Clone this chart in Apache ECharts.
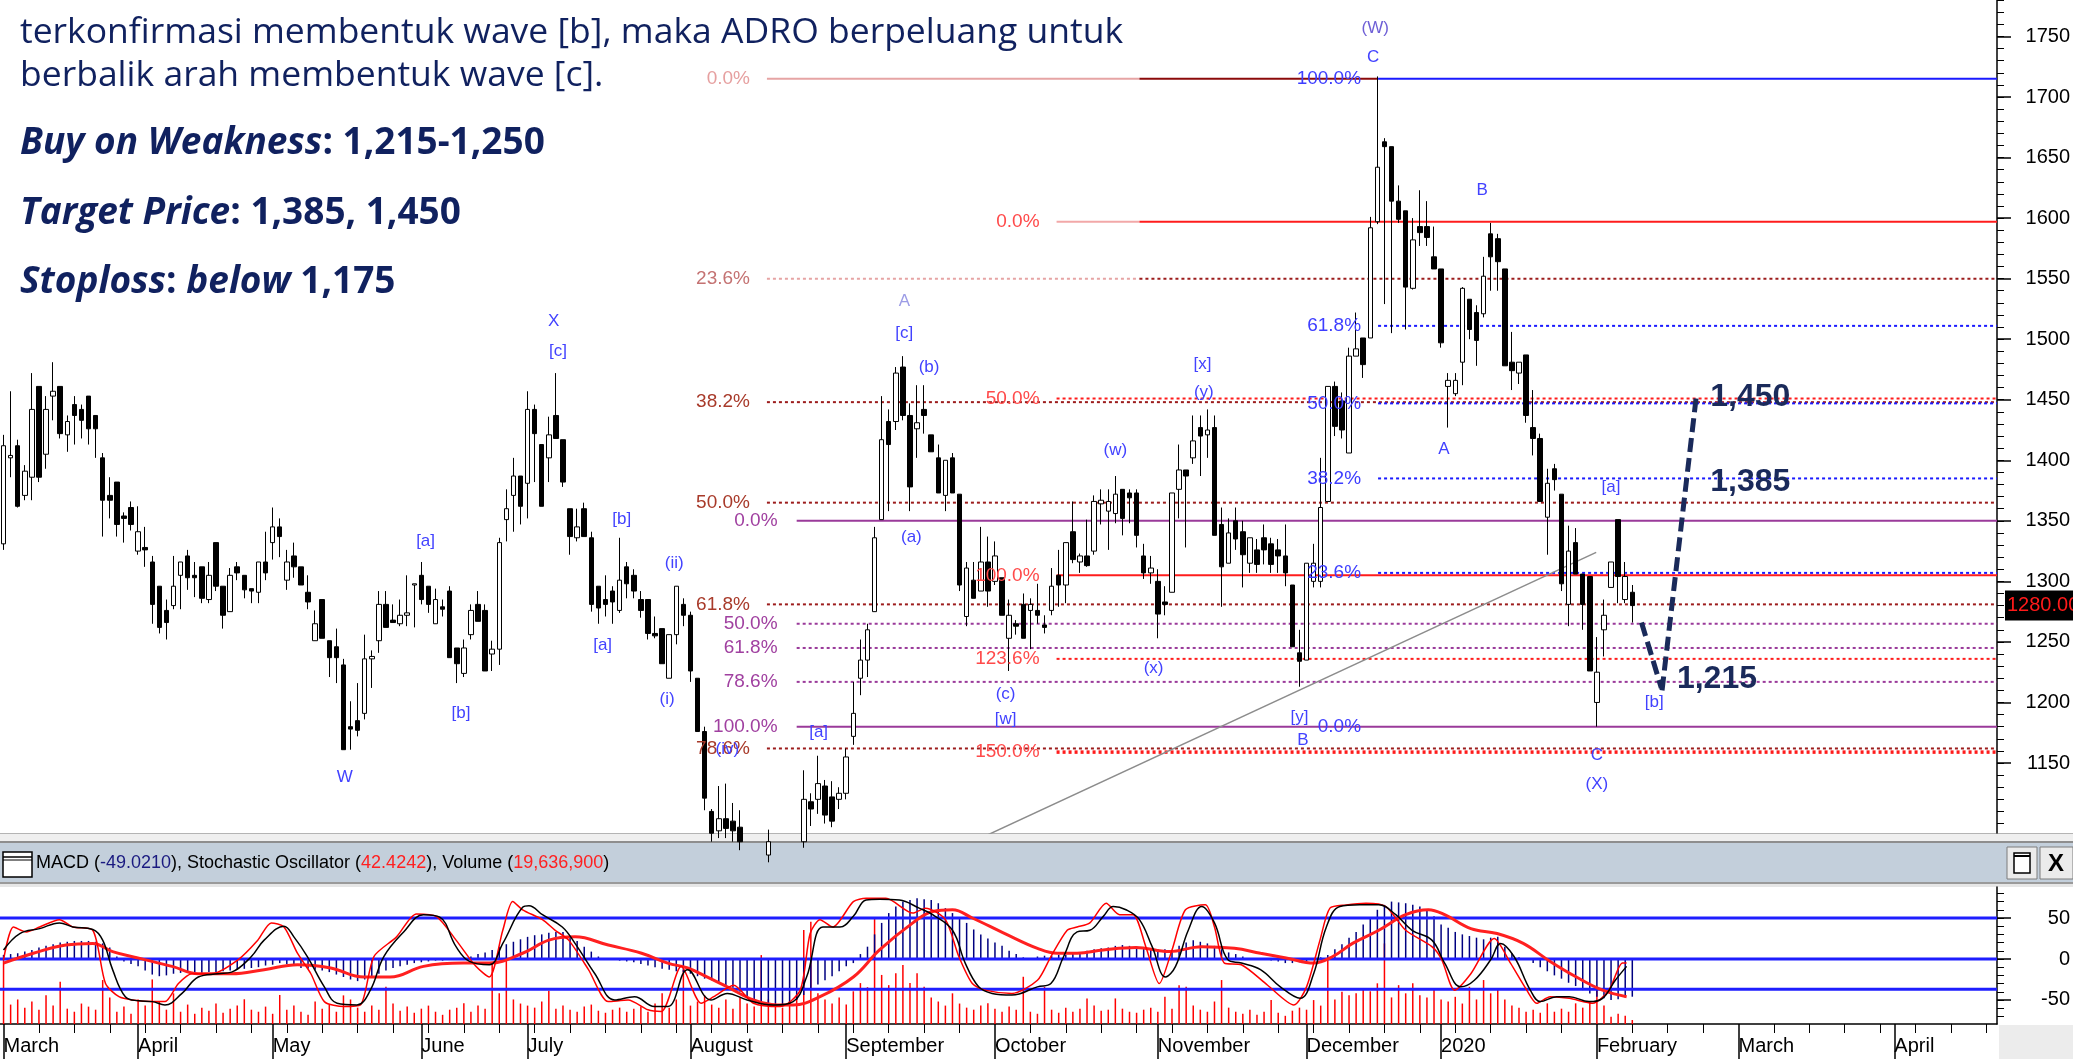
<!DOCTYPE html>
<html>
<head>
<meta charset="utf-8">
<script src="https://cdn.jsdelivr.net/npm/echarts@6/dist/echarts.min.js"></script>
<style>
  html, body { margin: 0; padding: 0; background: #fff; }
  #chart { width: 2073px; height: 1059px; }
</style>
</head>
<body>
<div id="chart"></div>
<script>
// ADRO daily candles [open, close, low, high], March 2019 - early February 2020
const candles = [
  [1331,1412,1326,1421],[1402,1404,1386,1457],[1412,1362,1361,1417],[1371,1391,1367,1396],[1386,1442,1367,1472],
  [1461,1386,1382,1461],[1405,1442,1393,1453],[1453,1457,1433,1481],[1461,1422,1418,1461],[1421,1432,1407,1437],
  [1446,1437,1413,1453],[1442,1433,1418,1446],[1453,1426,1413,1453],[1437,1426,1402,1437],[1402,1367,1337,1406],
  [1371,1367,1352,1386],[1382,1347,1337,1382],[1354,1352,1332,1357],[1361,1347,1342,1366],[1325,1341,1322,1362],
  [1328,1326,1312,1345],[1316,1281,1265,1321],[1296,1262,1257,1296],[1276,1266,1252,1285],[1280,1296,1277,1321],
  [1305,1316,1277,1316],[1321,1303,1293,1326],[1305,1303,1287,1316],[1312,1286,1282,1312],[1285,1305,1282,1316],
  [1332,1296,1292,1332],[1296,1272,1261,1296],[1275,1305,1275,1311],[1312,1307,1301,1316],[1305,1293,1286,1305],
  [1294,1292,1282,1294],[1291,1316,1282,1316],[1316,1307,1301,1341],[1332,1345,1318,1361],[1345,1337,1320,1352],
  [1301,1316,1293,1326],[1321,1312,1303,1332],[1312,1297,1297,1312],[1291,1283,1277,1305],[1251,1265,1251,1276],
  [1285,1253,1253,1285],[1251,1237,1221,1251],[1246,1237,1216,1261],[1231,1161,1161,1236],[1180,1178,1161,1201],
  [1185,1177,1172,1216],[1191,1236,1186,1256],[1236,1238,1212,1243],[1251,1281,1241,1292],[1281,1262,1262,1292],
  [1268,1266,1266,1281],[1265,1272,1263,1285],[1272,1274,1263,1305],[1297,1298,1262,1298],[1305,1285,1281,1316],
  [1296,1281,1274,1296],[1265,1285,1265,1294],[1279,1277,1271,1285],[1292,1237,1237,1296],[1245,1232,1216,1245],
  [1224,1245,1221,1252],[1256,1276,1252,1281],[1281,1267,1267,1292],[1276,1226,1226,1281],[1240,1244,1226,1251],
  [1244,1332,1231,1336],[1351,1360,1333,1376],[1371,1387,1341,1402],[1387,1362,1347,1387],[1381,1442,1352,1457],
  [1442,1422,1382,1446],[1413,1362,1362,1413],[1402,1421,1382,1436],[1437,1418,1418,1472],[1417,1382,1378,1417],
  [1360,1337,1322,1360],[1336,1345,1333,1360],[1360,1337,1337,1365],[1336,1281,1275,1341],[1296,1278,1265,1296],
  [1285,1281,1271,1305],[1292,1283,1265,1296],[1276,1301,1274,1336],[1312,1298,1286,1316],[1305,1292,1286,1310],
  [1285,1276,1270,1292],[1285,1257,1252,1285],[1257,1255,1253,1271],[1261,1232,1232,1261],[1220,1256,1220,1256],
  [1256,1296,1248,1296],[1281,1272,1263,1286],[1272,1226,1217,1275],[1220,1176,1176,1220],[1176,1121,1111,1180],
  [1110,1092,1085,1112],[1094,1104,1088,1131],[1104,1096,1088,1133],[1102,1094,1085,1117],[1097,1085,1078,1111],
  [1085,1072,1062,1090],[1074,1066,1058,1082],[1066,1072,1055,1078],[1074,1085,1068,1095],[1085,1078,1068,1090],
  [1078,1070,1060,1084],[1068,1075,1060,1082],[1075,1085,1068,1092],[1085,1120,1080,1144],[1118,1112,1098,1125],
  [1120,1133,1108,1156],[1131,1107,1100,1136],[1122,1102,1097,1135],[1120,1125,1112,1130],[1125,1155,1120,1162],
  [1172,1191,1165,1217],[1220,1235,1206,1252],[1235,1260,1221,1265],[1275,1336,1275,1345],[1351,1417,1351,1453],
  [1432,1413,1358,1442],[1432,1472,1425,1477],[1477,1437,1433,1486],[1437,1378,1358,1447],[1426,1431,1402,1462],
  [1442,1437,1422,1462],[1421,1407,1407,1421],[1402,1373,1373,1413],[1371,1400,1358,1400],[1402,1373,1373,1406],
  [1372,1297,1292,1372],[1271,1311,1263,1316],[1301,1286,1286,1316],[1292,1316,1292,1345],[1316,1292,1279,1337],
  [1300,1321,1297,1333],[1303,1272,1272,1303],[1253,1272,1226,1285],[1265,1263,1256,1268],[1281,1253,1253,1290],
  [1276,1281,1244,1286],[1276,1272,1265,1298],[1264,1262,1257,1272],[1276,1296,1272,1311],[1305,1297,1279,1326],
  [1297,1332,1282,1332],[1341,1318,1315,1366],[1316,1321,1307,1323],[1321,1313,1312,1351],[1325,1366,1322,1371],
  [1364,1367,1347,1376],[1358,1366,1326,1376],[1356,1372,1348,1387],[1376,1352,1338,1376],[1373,1369,1348,1376],
  [1373,1338,1328,1376],[1321,1307,1302,1331],[1307,1311,1298,1321],[1300,1273,1253,1310],[1283,1281,1272,1296],
  [1291,1373,1291,1373],[1376,1392,1352,1413],[1392,1387,1328,1392],[1402,1416,1397,1437],[1427,1420,1387,1437],
  [1421,1425,1402,1442],[1427,1338,1338,1437],[1347,1312,1279,1361],[1315,1340,1315,1352],[1350,1335,1326,1361],
  [1341,1322,1295,1350],[1315,1336,1307,1336],[1326,1314,1307,1335],[1336,1326,1314,1347],[1331,1314,1307,1336],
  [1326,1321,1307,1335],[1321,1307,1296,1347],[1297,1246,1246,1297],[1241,1234,1213,1260],[1235,1315,1235,1315],
  [1300,1315,1295,1331],[1300,1361,1295,1402],[1366,1461,1366,1461],[1461,1428,1420,1465],[1449,1425,1418,1456],
  [1406,1486,1406,1493],[1486,1492,1486,1522],[1501,1479,1468,1501],[1501,1592,1501,1601],[1597,1642,1595,1717],
  [1663,1659,1529,1666],[1659,1614,1505,1659],[1614,1599,1596,1627],[1606,1543,1508,1606],[1542,1582,1541,1600],
  [1593,1588,1577,1623],[1593,1584,1577,1614],[1568,1558,1558,1593],[1558,1497,1493,1558],[1461,1466,1427,1472],
  [1455,1466,1453,1472],[1481,1542,1462,1543],[1533,1508,1500,1533],[1522,1499,1478,1528],[1521,1552,1518,1568],
  [1587,1568,1540,1596],[1583,1564,1540,1587],[1558,1478,1478,1558],[1481,1474,1458,1506],[1472,1481,1463,1481],
  [1487,1437,1431,1487],[1427,1418,1404,1458],[1418,1366,1366,1422],[1353,1381,1322,1393],[1393,1384,1375,1397],
  [1372,1298,1292,1372],[1281,1325,1263,1346],[1332,1306,1306,1344],[1306,1281,1260,1306],[1304,1226,1226,1304],
  [1200,1225,1180,1254],[1260,1272,1238,1285],[1295,1316,1295,1316],[1351,1304,1282,1351],[1285,1304,1282,1316],
  [1291,1280,1266,1297]
];

// MACD histogram, one bar per day
const macdHist = [
  5,6,7,9,11,14,16,18,20,21, 22,22,22,21,19,14,3,-3,-6,-9,
  -14,-19,-21,-20,-18,-17,-17,-18,-17,-16, -16,-15,-14,-13,-12,-11,-10,-8,-7,-5,
  -6,-8,-11,-12,-13,-14,-16,-19,-22,-25, -27,-25,-22,-18,-14,-11,-9,-7,-5,-4,
  -3,-2,-2,-1,-1,0,3,6,8,11, 15,18,21,24,27,29,30,32,33,33,
  28,22,15,9,3,1,-1,-2,-3,-4, -6,-8,-10,-12,-13,-15,-16,-18,-21,-24,
  -26,-29,-32,-35,-40,-46,-51,-55,-58,-58, -58,-56,-50,-44,-38,-31,-26,-21,-15,-9,
  -5,6,15,30,44,56,64,70,72,74, 73,72,68,62,56,50,44,36,30,25,
  20,16,10,6,2,1,3,4,4,5, 5,6,8,10,12,13,14,16,17,16,
  15,14,13,12,12,11,16,20,23,21, 19,16,12,8,6,3,1,-1,-1,-2,
  -3,-5,-5,-4,-3,-1,2,5,12,18, 26,33,42,51,60,66,70,69,68,66,
  64,60,52,42,38,33,30,28,26,24, 26,27,15,7,2,0,-5,-10,-15,-20,
  -24,-29,-33,-38,-42,-46,-48,-50,-49,-47, -46
];

// daily volume, millions of shares
const volume = [
  321,95,120,80,110,70,140,90,207,75, 60,100,85,70,215,130,60,85,50,120,
  90,218,110,70,150,60,95,50,80,65, 100,55,75,90,121,70,60,85,50,142,
  70,90,60,45,110,75,95,60,140,120, 80,60,90,70,182,100,65,85,55,75,
  90,60,45,70,80,101,60,90,75,297, 150,329,120,100,90,80,110,163,75,90,
  70,60,85,95,65,55,70,80,60,75, 85,60,100,150,80,120,264,90,110,140,
  95,80,120,75,130,100,85,337,120,95, 80,110,140,460,500,150,120,100,130,95,
  160,200,180,518,240,190,248,289,200,248, 182,130,110,90,150,100,80,70,90,101,
  75,60,85,70,231,60,50,182,70,55, 80,60,75,125,90,65,70,125,75,60,
  55,70,80,60,133,75,190,182,90,70, 60,110,215,80,60,50,70,45,60,117,
  55,40,65,80,70,117,90,321,120,158, 140,150,170,160,199,394,130,190,150,199,
  140,130,174,120,110,133,100,182,120,215, 150,174,120,90,80,60,70,55,101,60,
  75,60,101,80,110,182,90,36,50,40, 19.6
];

// stochastic %K (black), %D (thin red), MACD line (thick red): [day index, value]
const stochK = [
  [0,11],[2.3,31],[5.1,37],[7.9,44],[9.8,39],[12.6,36],[14,23],[15.4,-13],[17.2,-46],[19.1,-51],[21,-52],[22.8,-56],
  [25.2,-42],[27.5,-22],[30.3,-18],[32.2,-16],[35,3],[36.8,23],[39.6,40],[41,27],[42.9,3],[45.3,-34],[47.1,-54],
  [49.9,-56],[51.8,-38],[53.7,3],[56.5,33],[59.3,54],[61.6,51],[63.9,15],[65.8,-3],[68.6,-7],[70.5,19],[73.3,63],
  [74.2,65],[76.1,54],[78.9,39],[80.7,19],[83.5,-18],[86.3,-50],[89.1,-46],[91.9,-58],[93.8,-58],[96.6,-13],
  [99.9,-50],[102.2,-42],[105,-50],[108.7,-56],[111.5,-52],[113.4,-22],[115.7,39],[118.1,39],[120,52],[121.8,72],
  [123.7,73],[126.5,72],[129.3,62],[131.2,54],[134,35],[135.8,-5],[137.7,-34],[139.6,-42],[142.4,-44],[146,-34],
  [147.9,-30],[149.7,3],[151.6,33],[153.4,35],[155.3,52],[156.7,64],[158.5,60],[160.4,48],[162.2,15],[164.1,-22],
  [165.5,-9],[167.3,35],[169.2,64],[171,44],[172.9,-1],[174.8,-5],[177.5,-13],[180.3,-34],[183.1,-48],[185,-18],
  [186.8,39],[188.7,64],[191.5,66],[194.2,66],[196.6,54],[198.9,35],[201.7,23],[203.5,-5],[205.8,-34],[207.7,-26],
  [210,-1],[211.4,19],[213.3,3],[215.6,-38],[217,-52],[219.3,-46],[221.1,-46],[223.9,-52],[225.8,-48],[227.6,-26],
  [229.2,-9]
];
const stochD = [
  [0,-1],[1.4,39],[3.2,33],[5.1,39],[7.9,48],[9.8,39],[12.6,35],[14.4,-30],[16.3,-46],[18.2,-50],[21,-52],[22.8,-52],
  [24.7,-30],[26.6,-18],[29.4,-18],[33.1,-1],[35.9,23],[37.8,44],[39.6,39],[41.5,7],[43.4,-18],[45.3,-52],[48.1,-58],
  [50.4,-56],[52.3,3],[55.5,27],[58.3,55],[61.1,52],[63.9,23],[66.7,-9],[68.6,-22],[70.5,35],[71.9,70],[73.3,60],
  [76.1,48],[77.9,35],[79.8,23],[82.6,-13],[85.4,-52],[88.2,-50],[91,-62],[92.9,-64],[95.7,-9],[98.5,-54],
  [100.3,-46],[103.1,-32],[105.9,-54],[109.7,-58],[112.5,-38],[113.9,31],[115.3,48],[117.1,39],[120,70],[121.8,74],
  [124.6,74],[128.4,56],[130.2,62],[133,48],[134.9,3],[136.8,-30],[138.6,-38],[142.4,-42],[146,-26],[147.9,3],
  [150.2,35],[151.6,39],[153.4,44],[155.7,68],[157.6,54],[159.5,54],[161.3,15],[163.2,-30],[165,11],[166.9,60],
  [169.7,66],[171,39],[172.4,-5],[174.8,-7],[178.5,-32],[182.2,-56],[184,-34],[185.9,23],[187.3,62],[189.6,66],
  [192.4,68],[195.2,64],[198,35],[201.7,15],[203.1,-1],[204.9,-38],[207.2,-18],[210.5,25],[212.8,-5],[215.1,-38],
  [216.5,-54],[218.4,-46],[221.1,-48],[224.4,-54],[226.7,-38],[228.6,-5],[229.2,-5]
];
const macdLine = [
  [0,-5],[4.2,7],[8.8,17],[12.6,19],[15.4,9],[19.1,1],[23.8,-9],[27.5,-18],[32.2,-18],[36.8,-13],[41.5,-7],[46.2,-11],
  [50.9,-22],[54.6,-22],[59.3,-9],[64.9,-5],[68.6,-5],[73.3,7],[77,23],[80.7,27],[85.4,17],[90.1,7],[93.8,-5],
  [96.6,-11],[99.4,-22],[102.2,-34],[105.9,-50],[109.2,-56],[111.5,-56],[115.3,-46],[120,-22],[123.7,11],[128.4,44],
  [131.2,58],[134,60],[136.8,50],[141.4,31],[146,13],[148.8,7],[151.6,7],[155.3,11],[159.9,14],[164.6,9],[169.2,15],
  [173.8,13],[177.5,7],[181.3,1],[185,-5],[187.7,3],[190.5,19],[194.2,35],[198,54],[201.2,60],[203.5,54],[207.2,37],
  [210.9,31],[214.6,19],[218.4,-3],[222.1,-22],[225.8,-38],[229.2,-46]
];

// axis labels
const months = ['March','April','May','June','July','August','September','October','November','December','2020','February','March','April'];
const monthStart = [0,19,38,59,74,97,119,140,163,184,203,225,245,267];
const priceTicks = [1150,1200,1250,1300,1350,1400,1450,1500,1550,1600,1650,1700,1750];
const indTicks = [-50,0,50];
const indLevels = [50,0,-37];

// fibonacci levels: [label, price]
const fibDarkRed = [['0.0%',1715],['23.6%',1550],['38.2%',1448],['50.0%',1365],['61.8%',1281],['78.6%',1162]];
const fibPurple = [['0.0%',1350],['50.0%',1265],['61.8%',1245],['78.6%',1217],['100.0%',1180]];
const fibRed = [['0.0%',1597],['50.0%',1451],['100.0%',1305],['123.6%',1236],['150.0%',1159]];
const fibBlue = [['100.0%',1715],['61.8%',1511],['50.0%',1447],['38.2%',1385],['23.6%',1307],['0.0%',1180]];

// elliott wave labels: [text, day index, price]
const waveLabels = [
  ['X',77.7,1515],['[c]',78.3,1490],['W',48.2,1138],['[a]',59.6,1333],['[b]',64.6,1191],['[b]',87.3,1351],
  ['[a]',84.6,1247],['(ii)',94.7,1315],['(i)',93.7,1203],['(iv)',102.2,1161],['[a]',115.1,1175],
  ['[c]',127.2,1505],['(b)',130.7,1477],['(a)',128.2,1336],['(c)',141.5,1207],['[w]',141.5,1186],
  ['(w)',157,1408],['(x)',162.4,1228],['[x]',169.3,1479],['(y)',169.5,1456],['[y]',183,1188],['B',183.5,1169],
  ['C',193.4,1733],['B',208.8,1623],['A',203.4,1409],['[a]',227,1378],['[b]',233.1,1200],['C',225,1156],['(X)',225,1132]
];
const waveLabelsLight = [['A',127.2,1531],['(W)',193.7,1757]];
const targets = [['1,450',241,1452],['1,385',241,1382],['1,215',236.3,1219]];
const trendLine = [[131,1069],[224.9,1324]];
const arrowDown = [[231.3,1266],[234.1,1212]];
const arrowUp = [[234.2,1210],[239,1451]];

const N = 282;
const cats = [];
for (let i = 0; i < N; i++) cats.push(String(i));
const monthOf = {};
monthStart.forEach((s, k) => { monthOf[s] = months[k]; });
const priceMinor = [];
for (let v = 1100; v <= 1780; v += 10) priceMinor.push(v);
const indMinor = [];
for (let v = -70; v <= 80; v += 10) indMinor.push(v);

const ARIAL = '"Liberation Sans",Arial,sans-serif';
const XEND = N - 0.5;

const chart = echarts.init(document.getElementById('chart'));

function seg(x1, x2, p, color, type, width, z) {
  return {
    type: 'line', xAxisIndex: 1, yAxisIndex: 0, silent: true, symbol: 'none', z: z || 3,
    data: [[x1, p], [x2, p]],
    lineStyle: { color: color, type: type, width: width }
  };
}

function texts(items, opt) {
  return {
    type: 'scatter', xAxisIndex: 1, yAxisIndex: 0, silent: true, z: opt.z || 10, clip: false,
    symbolSize: 1, itemStyle: { color: 'transparent', opacity: 1 },
    data: items.map(t => ({
      value: [t[1], t[2]],
      label: {
        show: true, position: 'inside', formatter: t[0], opacity: 1,
        color: t[3] || opt.color, fontSize: opt.size, fontFamily: opt.font,
        fontWeight: opt.weight || 'normal', align: opt.align || 'center', verticalAlign: 'middle'
      }
    }))
  };
}

const DOT = [3, 3];
const series = [];

// fibonacci lines
const DR_START = 107.8, PU_START = 112, RE_START = 148.7, FADE_END = 160.4, BL_START = 194.1;
series.push(seg(DR_START, FADE_END, fibDarkRed[0][1], '#e6a4a4', 'solid', 2));
series.push(seg(FADE_END, BL_START, fibDarkRed[0][1], '#8b0a0a', 'solid', 2));
series.push(seg(DR_START, FADE_END, fibDarkRed[1][1], '#e6a4a4', DOT, 2));
series.push(seg(FADE_END, XEND, fibDarkRed[1][1], '#9c1c1c', DOT, 2));
fibDarkRed.slice(2).forEach(f => series.push(seg(DR_START, XEND, f[1], '#9c1c1c', DOT, 2)));
fibPurple.forEach((f, k) => {
  const solid = k === 0 || k === fibPurple.length - 1;
  series.push(seg(PU_START, XEND, f[1], '#9a3a9a', solid ? 'solid' : DOT, 2));
});
series.push(seg(RE_START, FADE_END, fibRed[0][1], '#f2a8a8', 'solid', 2));
series.push(seg(FADE_END, XEND, fibRed[0][1], '#ff1c1c', 'solid', 2));
series.push(seg(RE_START, XEND, fibRed[1][1], '#ff1c1c', DOT, 2));
series.push(seg(RE_START, XEND, fibRed[2][1], '#ff1c1c', 'solid', 2));
series.push(seg(RE_START, XEND, fibRed[3][1], '#ff1c1c', DOT, 2));
series.push(seg(RE_START, XEND, fibRed[4][1], '#ff1c1c', DOT, 3.5));
series.push(seg(BL_START, XEND, fibBlue[0][1], '#1a1aff', 'solid', 2));
fibBlue.slice(1, 5).forEach(f => series.push(seg(BL_START, XEND, f[1], '#1a1aff', DOT, 2)));

// gray trend line
series.push({
  type: 'line', xAxisIndex: 1, yAxisIndex: 0, silent: true, symbol: 'none', z: 3, clip: true,
  data: trendLine, lineStyle: { color: '#8c8c8c', width: 1.5 }
});

// candles
series.push({
  type: 'candlestick', xAxisIndex: 0, yAxisIndex: 0, data: candles, barWidth: 5, clip: true, z: 5,
  itemStyle: { color: '#ffffff', color0: '#000000', borderColor: '#000000', borderColor0: '#000000', borderWidth: 1 }
});

// fib labels
series.push(texts(fibDarkRed.map((f, k) => [f[0], 105.4, f[1], k === 0 ? '#e6a0a0' : (k === 1 ? '#c47272' : '#a83a2a')]), { size: 19, font: ARIAL, align: 'right' }));
series.push(texts(fibPurple.map(f => [f[0], 109.3, f[1]]), { size: 19, font: ARIAL, align: 'right', color: '#a040a0' }));
series.push(texts(fibRed.map(f => [f[0], 146.3, f[1]]), { size: 19, font: ARIAL, align: 'right', color: '#ff4a4a' }));
series.push(texts(fibBlue.map(f => [f[0], 191.7, f[1]]), { size: 19, font: ARIAL, align: 'right', color: '#3d3dff' }));

// wave labels
series.push(texts(waveLabels, { size: 17, font: ARIAL, color: '#4242ff', z: 12 }));
series.push(texts([[waveLabelsLight[0][0], waveLabelsLight[0][1], waveLabelsLight[0][2], '#9c9ce6'], [waveLabelsLight[1][0], waveLabelsLight[1][1], waveLabelsLight[1][2], '#6e5fd6']], { size: 17, font: ARIAL, z: 12 }));

// targets and arrows
series.push(texts(targets, { size: 32, font: ARIAL, weight: 'bold', align: 'left', color: '#1a2a5a', z: 13 }));
series.push({
  type: 'line', xAxisIndex: 1, yAxisIndex: 0, silent: true, symbol: 'none', data: [], z: 14,
  markLine: {
    silent: true, symbol: ['none', 'arrow'], symbolSize: [0, 18], animation: false,
    label: { show: false },
    emphasis: { disabled: true },
    lineStyle: { color: '#1a2a5a', width: 5, type: [14, 6], opacity: 1 },
    data: [
      [{ coord: arrowDown[0] }, { coord: arrowDown[1] }],
      [{ coord: arrowUp[0] }, { coord: arrowUp[1] }]
    ]
  }
});

// indicator panel
series.push({
  type: 'bar', xAxisIndex: 2, yAxisIndex: 4, data: volume, barWidth: 1.5, barGap: '-100%', z: 1, silent: true,
  itemStyle: { color: '#ff0000' }
});
series.push({
  type: 'bar', xAxisIndex: 2, yAxisIndex: 2, data: macdHist, barWidth: 1.5, barGap: '-100%', z: 2, silent: true,
  itemStyle: { color: '#000080' }
});
indLevels.forEach(v => series.push({
  type: 'line', xAxisIndex: 4, yAxisIndex: 2, silent: true, symbol: 'none', z: 3,
  data: [[-0.5, v], [XEND, v]], lineStyle: { color: '#1e1eff', width: 3 }
}));
series.push({ type: 'line', xAxisIndex: 4, yAxisIndex: 2, data: macdLine, smooth: 0.4, symbol: 'none', silent: true, z: 4, lineStyle: { color: '#ff2020', width: 3 } });
series.push({ type: 'line', xAxisIndex: 4, yAxisIndex: 2, data: stochD, smooth: 0.25, symbol: 'none', silent: true, z: 5, lineStyle: { color: '#ff0000', width: 1.5 } });
series.push({ type: 'line', xAxisIndex: 4, yAxisIndex: 2, data: stochK, smooth: 0.4, symbol: 'none', silent: true, z: 6, lineStyle: { color: '#000000', width: 1.5 } });

const PMIN = 1092.2, PMAX = 1780.1;
const IMIN = -79.3, IMAX = 87.8;
const VMAX = 670;
const plain = v => String(v);

const option = {
  animation: false,
  backgroundColor: '#ffffff',
  grid: [
    { left: 0, top: 0, width: 1998, height: 833 },
    { left: 0, top: 887, width: 1998, height: 137 }
  ],
  xAxis: [
    { type: 'category', gridIndex: 0, data: cats, show: false, axisLine: { onZero: false } },
    { type: 'value', gridIndex: 0, min: -0.5, max: XEND, show: false, axisLine: { onZero: false } },
    {
      type: 'category', gridIndex: 1, data: cats, position: 'bottom',
      axisLine: { show: true, onZero: false, lineStyle: { color: '#000', width: 1.5 } },
      axisTick: { show: true, alignWithLabel: true, length: 9, lineStyle: { color: '#000' }, interval: (i) => i % 5 === 0 && monthOf[i] === undefined },
      axisLabel: { show: false }, splitLine: { show: false }
    },
    {
      type: 'category', gridIndex: 1, data: cats, position: 'bottom',
      axisLine: { show: false, onZero: false },
      axisTick: { show: true, alignWithLabel: true, length: 35, lineStyle: { color: '#000', width: 1.5 }, interval: (i) => monthOf[i] !== undefined },
      axisLabel: {
        show: true, interval: (i) => monthOf[i] !== undefined, formatter: (v, i) => monthOf[i] || '',
        align: 'left', margin: 12, fontSize: 20, fontFamily: ARIAL, color: '#000'
      },
      splitLine: { show: false }
    },
    { type: 'value', gridIndex: 1, min: -0.5, max: XEND, show: false, axisLine: { onZero: false } }
  ],
  yAxis: [
    {
      type: 'value', gridIndex: 0, position: 'right', min: PMIN, max: PMAX,
      axisLine: { show: true, onZero: false, lineStyle: { color: '#000', width: 1.5 } },
      axisTick: { show: true, length: 14, customValues: priceTicks, lineStyle: { color: '#000', width: 1.5 } },
      axisLabel: { show: true, customValues: priceTicks, formatter: plain, align: 'right', margin: 73, fontSize: 20, fontFamily: ARIAL, color: '#000' },
      splitLine: { show: false }
    },
    {
      type: 'value', gridIndex: 0, position: 'right', min: PMIN, max: PMAX,
      axisLine: { show: false, onZero: false },
      axisTick: { show: true, length: 7, customValues: priceMinor, lineStyle: { color: '#000' } },
      axisLabel: { show: false }, splitLine: { show: false }
    },
    {
      type: 'value', gridIndex: 1, position: 'right', min: IMIN, max: IMAX,
      axisLine: { show: true, onZero: false, lineStyle: { color: '#000', width: 1.5 } },
      axisTick: { show: true, length: 14, customValues: indTicks, lineStyle: { color: '#000', width: 1.5 } },
      axisLabel: { show: true, customValues: indTicks, formatter: plain, align: 'right', margin: 73, fontSize: 20, fontFamily: ARIAL, color: '#000' },
      splitLine: { show: false }
    },
    {
      type: 'value', gridIndex: 1, position: 'right', min: IMIN, max: IMAX,
      axisLine: { show: false, onZero: false },
      axisTick: { show: true, length: 7, customValues: indMinor, lineStyle: { color: '#000' } },
      axisLabel: { show: false }, splitLine: { show: false }
    },
    { type: 'value', gridIndex: 1, position: 'right', min: 0, max: VMAX, show: false, axisLine: { onZero: false } }
  ],
  series: series
};

chart.setOption(option);

// window chrome, header and commentary
const NAVY = '#10215f';
const OS = '"Open Sans","Noto Sans",sans-serif';
const lastPrice = candles[candles.length - 1][1];
const yTag = chart.convertToPixel({ yAxisIndex: 0 }, lastPrice);

function boldLine(y, rich) {
  return {
    type: 'text', style: {
      x: 20, y: y, verticalAlign: 'middle', text: rich,
      rich: {
        bi: { fill: NAVY, fontSize: 37, fontFamily: OS, fontWeight: 'bold', fontStyle: 'italic' },
        b: { fill: NAVY, fontSize: 37, fontFamily: OS, fontWeight: 'bold' }
      }
    }
  };
}

const graphics = [
  { type: 'rect', shape: { x: 0, y: 833, width: 2073, height: 9 }, style: { fill: '#efefef' } },
  { type: 'rect', shape: { x: 0, y: 833, width: 2073, height: 1 }, style: { fill: '#b4b4b4' } },
  { type: 'rect', shape: { x: 0, y: 841, width: 2073, height: 2 }, style: { fill: '#8e8e8e' } },
  { type: 'rect', shape: { x: 0, y: 843, width: 2073, height: 39 }, style: { fill: '#c3cfdb' } },
  { type: 'rect', shape: { x: 0, y: 882, width: 2073, height: 2 }, style: { fill: '#9a9a9a' } },
  { type: 'rect', shape: { x: 0, y: 884, width: 2073, height: 3 }, style: { fill: '#e6e6e6' } },
  { type: 'rect', shape: { x: 1999, y: 1025, width: 74, height: 34 }, style: { fill: '#ececec' } },
  // left window icon
  { type: 'rect', shape: { x: 3, y: 852, width: 29, height: 25 }, style: { fill: '#ffffff', stroke: '#000', lineWidth: 1.5 } },
  { type: 'line', shape: { x1: 3, y1: 857, x2: 32, y2: 857 }, style: { stroke: '#000', lineWidth: 1.5 } },
  { type: 'line', shape: { x1: 3, y1: 860, x2: 32, y2: 860 }, style: { stroke: '#000', lineWidth: 1 } },
  {
    type: 'text', style: {
      x: 36, y: 863, verticalAlign: 'middle',
      text: '{k|MACD (}{n|-49.0210}{k|), Stochastic Oscillator (}{r|42.4242}{k|), Volume (}{r|19,636,900}{k|)}',
      rich: {
        k: { fill: '#000', fontSize: 18, fontFamily: ARIAL },
        n: { fill: '#1a1a80', fontSize: 18, fontFamily: ARIAL },
        r: { fill: '#ff2020', fontSize: 18, fontFamily: ARIAL }
      }
    }
  },
  // buttons
  { type: 'rect', shape: { x: 2007, y: 847, width: 30, height: 32 }, style: { fill: '#ebebeb', stroke: '#7c7c7c', lineWidth: 1 } },
  { type: 'rect', shape: { x: 2014, y: 853, width: 16, height: 20 }, style: { fill: '#ffffff', stroke: '#000', lineWidth: 1.5 } },
  { type: 'line', shape: { x1: 2014, y1: 856, x2: 2030, y2: 856 }, style: { stroke: '#000', lineWidth: 2 } },
  { type: 'rect', shape: { x: 2040, y: 847, width: 33, height: 32 }, style: { fill: '#ebebeb', stroke: '#7c7c7c', lineWidth: 1 } },
  { type: 'text', style: { x: 2056, y: 864, align: 'center', verticalAlign: 'middle', text: 'X', fill: '#000', font: 'bold 24px ' + ARIAL } },
  // last price tag
  { type: 'rect', shape: { x: 2005, y: yTag - 15, width: 68, height: 30 }, style: { fill: '#000' } },
  { type: 'text', style: { x: 2007, y: yTag, verticalAlign: 'middle', text: lastPrice.toFixed(3), fill: '#ff1a1a', fontSize: 20, fontFamily: ARIAL } },
  // commentary
  { type: 'text', style: { x: 20, y: 33, verticalAlign: 'middle', text: 'terkonfirmasi membentuk wave [b], maka ADRO berpeluang untuk', fill: NAVY, fontSize: 35.5, fontFamily: OS } },
  { type: 'text', style: { x: 20, y: 76, verticalAlign: 'middle', text: 'berbalik arah membentuk wave [c].', fill: NAVY, fontSize: 35.5, fontFamily: OS } },
  boldLine(143, '{bi|Buy on Weakness}{b|: 1,215-1,250}'),
  boldLine(213, '{bi|Target Price}{b|: 1,385, 1,450}'),
  boldLine(282, '{bi|Stoploss}{b|: }{bi|below }{b|1,175}')
];

chart.setOption({ graphic: graphics });
</script>
</body>
</html>
